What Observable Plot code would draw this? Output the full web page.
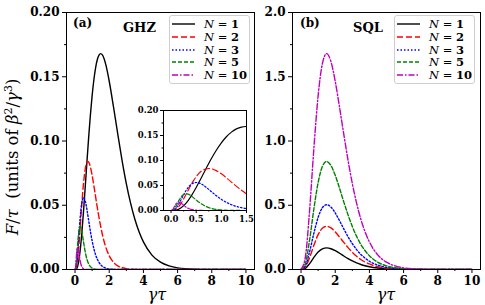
<!DOCTYPE html>
<html><head><meta charset="utf-8">
<script src="https://cdn.jsdelivr.net/npm/d3@7"></script>
<script src="https://cdn.jsdelivr.net/npm/@observablehq/plot@0.6"></script>
<style>
body{margin:0;background:white;}
#root{position:relative;width:485px;height:305px;overflow:hidden;font-family:"DejaVu Serif",serif;background:white;}
#root svg{position:absolute;}
.lbl{position:absolute;white-space:nowrap;line-height:1;color:black;}
.legend{position:absolute;border:1px solid #cfcfcf;border-radius:3px;background:rgba(255,255,255,0.85);box-sizing:border-box;}
.row{position:absolute;left:0;height:12px;display:flex;align-items:center;font-size:11.5px;font-weight:normal;white-space:nowrap;}
.row svg{position:static !important;}
</style></head><body><div id="root"></div>
<script>
// ---- data ----
const nLabels = ["1", "2", "3", "5", "10"];

// GHZ panel (a)
const tG1 = [0,0.1,0.2,0.3,0.4,0.5,0.6,0.7,0.8,0.9,1.0,1.1,1.2,1.3,1.4,1.5,1.6,1.8,2.0,2.25,2.5,2.75,3.0,3.25,3.5,3.75,4.0,4.5,5.0,5.5,6.0,7.0,8.0,10];
const fG1 = [0,0.0008,0.0054,0.0148,0.0288,0.046,0.0651,0.0846,0.1034,0.1205,0.1353,0.1475,0.1568,0.1632,0.1669,0.168,0.167,0.1594,0.1465,0.1265,0.1053,0.085,0.0669,0.0516,0.0391,0.0292,0.0215,0.0112,0.0057,0.0028,0.0013,0.0003,0.0001,0];
const tG2 = [0,0.05,0.1,0.15,0.2,0.25,0.3,0.35,0.4,0.45,0.5,0.55,0.6,0.65,0.7,0.75,0.8,0.9,1.0,1.125,1.25,1.375,1.5,1.625,1.75,1.875,2.0,2.25,2.5,2.75,3.0,3.5,4.0,5.0,10];
const fG2 = [0,0.0004,0.0027,0.0074,0.0144,0.023,0.0325,0.0423,0.0517,0.0603,0.0677,0.0737,0.0784,0.0816,0.0834,0.084,0.0835,0.0797,0.0733,0.0633,0.0526,0.0425,0.0335,0.0258,0.0195,0.0146,0.0107,0.0056,0.0028,0.0014,0.0007,0.0001,0,0,0];
const tG3 = [0,0.05,0.1,0.15,0.2,0.25,0.3,0.35,0.4,0.45,0.5,0.55,0.6,0.7,0.8,0.9,1.0,1.2,1.4,1.6,2.0,2.5,3.0,10];
const fG3 = [0,0.0008,0.0049,0.0124,0.0217,0.0314,0.0402,0.0473,0.0523,0.0551,0.056,0.0552,0.0531,0.0463,0.0379,0.0296,0.0223,0.0116,0.0056,0.0025,0.0004,0,0,0];
const tG5 = [0,0.02,0.04,0.06,0.08,0.1,0.12,0.14,0.16,0.18,0.2,0.22,0.24,0.26,0.28,0.3,0.32,0.36,0.4,0.45,0.5,0.55,0.6,0.65,0.7,0.75,0.8,0.9,1.0,1.2,1.5,2.0,10];
const fG5 = [0,0.0002,0.0011,0.003,0.0058,0.0092,0.013,0.0169,0.0207,0.0241,0.0271,0.0295,0.0314,0.0326,0.0334,0.0336,0.0334,0.0319,0.0293,0.0253,0.0211,0.017,0.0134,0.0103,0.0078,0.0058,0.0043,0.0022,0.0011,0.0003,0,0,0];
const tG10 = [0,0.01,0.02,0.03,0.04,0.05,0.06,0.07,0.08,0.09,0.1,0.11,0.12,0.13,0.14,0.15,0.16,0.18,0.2,0.225,0.25,0.275,0.3,0.325,0.35,0.375,0.4,0.45,0.5,0.6,0.75,1.0,10];
const fG10 = [0,0.0001,0.0005,0.0015,0.0029,0.0046,0.0065,0.0085,0.0103,0.0121,0.0135,0.0148,0.0157,0.0163,0.0167,0.0168,0.0167,0.0159,0.0147,0.0127,0.0105,0.0085,0.0067,0.0052,0.0039,0.0029,0.0022,0.0011,0.0006,0.0001,0,0,0];

// SQL panel (b)
const tS = [0,0.25,0.5,0.75,1,1.25,1.5,1.75,2,2.25,2.5,2.75,3,3.25,3.5,3.75,4,4.5,5,5.5,6,7,8,10];
const fS1 = [0,0.0095,0.046,0.0941,0.1353,0.1603,0.168,0.1618,0.1465,0.1265,0.1053,0.085,0.0669,0.0516,0.0391,0.0292,0.0215,0.0112,0.0057,0.0028,0.0013,0.0003,0.0001,0];
const fS2 = [0,0.019,0.092,0.188,0.271,0.321,0.336,0.324,0.293,0.253,0.211,0.170,0.134,0.103,0.078,0.058,0.043,0.022,0.011,0.0056,0.0027,0.0006,0.0001,0];
const fS3 = [0,0.028,0.138,0.282,0.406,0.481,0.504,0.486,0.440,0.380,0.316,0.255,0.201,0.155,0.117,0.088,0.064,0.034,0.017,0.0083,0.004,0.0009,0.0002,0];
const fS5 = [0,0.047,0.230,0.471,0.677,0.802,0.840,0.809,0.733,0.633,0.526,0.425,0.335,0.258,0.195,0.146,0.107,0.056,0.028,0.014,0.0066,0.0014,0.0003,0];
const fS10 = [0,0.095,0.460,0.941,1.353,1.603,1.680,1.618,1.465,1.265,1.053,0.850,0.669,0.516,0.391,0.292,0.215,0.112,0.057,0.028,0.013,0.003,0.0006,0];

// tick values
const xTicks = [0, 2, 4, 6, 8, 10];
const xMinor = [1, 3, 5, 7, 9];
const yTicksA = [0, 0.05, 0.10, 0.15, 0.20];
const yMinorA = [0.025, 0.075, 0.125, 0.175];
const yTicksB = [0, 0.5, 1.0, 1.5, 2.0];
const yMinorB = [0.25, 0.75, 1.25, 1.75];
const xTicksIn = [0, 0.5, 1.0, 1.5];
const xMinorIn = [0.25, 0.75, 1.25];

// styles
const colors = ["#000000", "#ff0000", "#0000ff", "#008000", "#bf00bf"];
const dashes = [null, "6,3", "1.5,2", "4,2", "6,2,1.5,2"];

const ghz = [[tG1, fG1], [tG2, fG2], [tG3, fG3], [tG5, fG5], [tG10, fG10]];
const sql = [[tS, fS1], [tS, fS2], [tS, fS3], [tS, fS5], [tS, fS10]];

function panel(o) {
  const marks = [];
  if (o.fill) marks.push(Plot.frame({fill: "white", stroke: null}));
  o.series.forEach(([t, v], i) => {
    const rows = t.map((x, j) => ({t: x, v: v[j]}));
    marks.push(Plot.line(rows, {x: "t", y: "v", stroke: colors[i], strokeWidth: o.sw,
      strokeDasharray: dashes[i] || undefined, curve: "monotone-x", clip: true}));
  });
  marks.push(Plot.frame({stroke: "black", strokeWidth: 1}));
  marks.push(Plot.axisX(o.xTicks, {tickSize: o.ts, tickPadding: o.tp, tickFormat: o.fx, label: null}));
  marks.push(Plot.axisX(o.xMinor, {tickSize: o.ts / 2, tickFormat: () => "", label: null}));
  marks.push(Plot.axisY(o.yTicks, {tickSize: o.ts, tickPadding: o.tp, tickFormat: o.fy, label: null}));
  marks.push(Plot.axisY(o.yMinor, {tickSize: o.ts / 2, tickFormat: () => "", label: null}));
  const svg = Plot.plot({
    width: o.width, height: o.height,
    marginLeft: o.mL, marginRight: o.mR, marginTop: o.mT, marginBottom: o.mB,
    x: {domain: o.xDomain, label: null},
    y: {domain: o.yDomain, label: null},
    style: {fontFamily: "DejaVu Serif", fontWeight: "bold", fontSize: o.fs + "px",
      background: "transparent", color: "black", overflow: "visible"},
    marks
  });
  svg.style.left = o.left + "px";
  svg.style.top = o.top + "px";
  return svg;
}

const root = document.getElementById("root");

root.appendChild(panel({series: ghz, xDomain: [-0.5, 10.5], yDomain: [0, 0.2],
  xTicks, xMinor, yTicks: yTicksA, yMinor: yMinorA, fx: d => String(d), fy: d3.format(".2f"),
  width: 260, height: 305, mL: 66, mR: 6, mT: 12, mB: 36, left: 0, top: 0, fs: 12, ts: 4, tp: 3, sw: 1.4}));

root.appendChild(panel({series: sql, xDomain: [-0.5, 10.5], yDomain: [0, 2],
  xTicks, xMinor, yTicks: yTicksB, yMinor: yMinorB, fx: d => String(d), fy: d3.format(".1f"),
  width: 245, height: 305, mL: 52, mR: 5, mT: 12, mB: 36, left: 240, top: 0, fs: 12, ts: 4, tp: 3, sw: 1.4}));

root.appendChild(panel({series: ghz, xDomain: [-0.15, 1.5], yDomain: [0, 0.2], fill: true,
  xTicks: xTicksIn, xMinor: xMinorIn, yTicks: yTicksA, yMinor: yMinorA, fx: d3.format(".1f"), fy: d3.format(".2f"),
  width: 122, height: 130, mL: 33, mR: 6, mT: 10, mB: 20, left: 130, top: 100, fs: 8.5, ts: 3, tp: 2, sw: 1.2}));

function addLabel(html, left, cy, css) {
  const d = document.createElement("div");
  d.className = "lbl";
  d.innerHTML = html;
  Object.assign(d.style, css || {});
  d.style.left = left + "px";
  d.style.top = cy + "px";
  if (!d.style.transform) d.style.transform = "translateY(-50%)";
  root.appendChild(d);
  return d;
}
addLabel("(a)", 73, 23, {fontSize: "12px", fontWeight: "bold"});
addLabel("GHZ", 123, 27, {fontSize: "13px", fontWeight: "bold"});
addLabel("(b)", 300, 23, {fontSize: "12px", fontWeight: "bold"});
addLabel("SQL", 353, 27, {fontSize: "13px", fontWeight: "bold"});
addLabel("<i>γτ</i>", 157, 295, {fontSize: "16px", transform: "translate(-50%,-50%)"});
addLabel("<i>γτ</i>", 386, 295, {fontSize: "16px", transform: "translate(-50%,-50%)"});
addLabel("<i>F</i>/<i>τ</i>&nbsp; (units of <i>β</i><sup style='font-size:11px'>2</sup>/<i>γ</i><sup style='font-size:11px'>3</sup>)",
  12, 157, {fontSize: "16.5px", transform: "translate(-50%,-50%) rotate(-90deg)"});

function legend(left, top) {
  const box = document.createElement("div");
  box.className = "legend";
  Object.assign(box.style, {left: left + "px", top: top + "px", width: "81px", height: "69px"});
  nLabels.forEach((n, i) => {
    const row = document.createElement("div");
    row.className = "row";
    row.style.top = (2 + i * 12.75) + "px";
    const s = `<svg width="23" height="6" style="margin-left:2px"><line x1="0" y1="3" x2="23" y2="3" stroke="${colors[i]}" stroke-width="1.4" ${dashes[i] ? `stroke-dasharray="${dashes[i]}"` : ""}/></svg>`;
    row.innerHTML = s + `<span style="margin-left:9px"><i>N</i> = <b>${n}</b></span>`;
    box.appendChild(row);
  });
  root.appendChild(box);
}
legend(169, 15);
legend(394, 15);
</script>
</body></html>
